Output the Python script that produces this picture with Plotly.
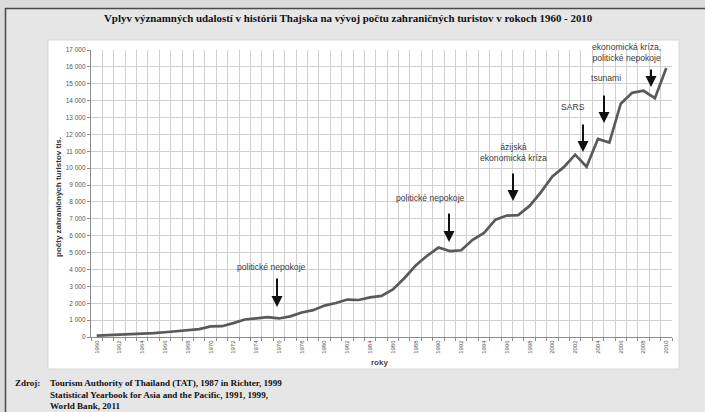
import plotly.graph_objects as go

# ---- data (thousands of foreign tourists) ----
years = list(range(1960, 2011))
tourists = [81, 107, 130, 195, 212, 225, 280, 336, 377, 469,
            629, 639, 821, 1037, 1107, 1180, 1098, 1221, 1454, 1591,
            1859, 2015, 2218, 2191, 2347, 2438, 2818, 3483, 4231, 4810,
            5299, 5087, 5136, 5761, 6166, 6952, 7192, 7221, 7765, 8580,
            9509, 10061, 10799, 10082, 11737, 11517, 13822, 14464, 14584, 14150,
            15936]

y_tickvals = list(range(0, 17001, 1000))
y_ticktext = [f"{v:,}".replace(",", " ") for v in y_tickvals]
x_tickvals = list(range(1960, 2011, 2))

event_labels = ["politické nepokoje", "politické nepokoje", "ázijská<br>ekonomická kríza",
                "SARS", "tsunami", "ekonomická kríza,<br>politické nepokoje"]

title_text = "Vplyv významných udalostí v histórii Thajska na vývoj počtu zahraničných turistov v rokoch 1960 - 2010"
source_lines = ["Tourism Authority of Thailand (TAT), 1987 in Richter, 1999",
                "Statistical Yearbook for Asia and the Pacific, 1991, 1999,",
                "World Bank, 2011"]

# ---- layout geometry (pixels) ----
W, H = 705, 412
L, R, T, B = 91, 672, 50, 337

def px(x):
    return (x - L) / (R - L)

def py(y):
    return (B - y) / (B - T)

fig = go.Figure()
fig.add_trace(go.Scatter(x=years, y=tourists, mode="lines",
                         line=dict(color="#5a5a5a", width=2.7),
                         hoverinfo="skip", showlegend=False))

shapes = [
    dict(type="rect", xref="paper", yref="paper", x0=px(5), x1=px(720), y0=py(430), y1=py(8),
         fillcolor="#e6e6e6", line=dict(width=0), layer="below"),
    dict(type="line", xref="paper", yref="paper", x0=px(5), x1=px(720), y0=py(8.5), y1=py(8.5),
         line=dict(color="#4a4a4a", width=1.5), layer="below"),
    dict(type="line", xref="paper", yref="paper", x0=px(5.5), x1=px(5.5), y0=py(430), y1=py(8),
         line=dict(color="#4a4a4a", width=1.5), layer="below"),
    dict(type="rect", xref="paper", yref="paper", x0=px(48), x1=px(679), y0=py(369), y1=py(40),
         fillcolor="white", line=dict(color="#d8d8d8", width=1), layer="below"),
]

annotations = []
label_pos = [(271, 267), (430, 198), (513, 152.5), (573, 107), (606, 78), (626, 52.5)]
for txt, (lx, ly) in zip(event_labels, label_pos):
    annotations.append(dict(text=txt, xref="paper", yref="paper", x=px(lx), y=py(ly),
                            showarrow=False, xanchor="center", yanchor="middle",
                            font=dict(family="Liberation Sans, Arial", size=8.6, color="#3a3a3a"),
                            align="center"))
arrow_pos = [(277, 277, 307), (449, 212, 242), (513, 172, 201),
             (583, 123, 152), (604, 94, 123), (651, 68, 87)]
for ax_, y0, y1 in arrow_pos:
    annotations.append(dict(text="", xref="paper", yref="paper", x=px(ax_), y=py(y1),
                            ax=0, ay=-(y1 - y0), showarrow=True, arrowhead=2,
                            arrowsize=1.1, arrowwidth=2, arrowcolor="#111111"))

annotations.append(dict(text="<b>" + title_text + "</b>", xref="paper", yref="paper",
                        x=px(348), y=py(18), showarrow=False, xanchor="center", yanchor="middle",
                        font=dict(family="Liberation Serif, Times New Roman", size=10.9, color="#111111")))
annotations.append(dict(text="<b>počty zahraničných turistov tis.</b>", xref="paper", yref="paper",
                        x=px(58), y=py(197), showarrow=False, textangle=-90,
                        xanchor="center", yanchor="middle",
                        font=dict(family="Liberation Sans Narrow, Liberation Sans, Arial", size=8, color="#333333")))
annotations.append(dict(text="<b>roky</b>", xref="paper", yref="paper",
                        x=px(379), y=py(362), showarrow=False, xanchor="center", yanchor="middle",
                        font=dict(family="Liberation Sans, Arial", size=8, color="#444444")))
annotations.append(dict(text="<b>Zdroj:</b>", xref="paper", yref="paper", x=px(13), y=py(383),
                        showarrow=False, xanchor="left", yanchor="middle",
                        font=dict(family="Liberation Serif, Times New Roman", size=9, color="#111111")))
for line, ly in zip(source_lines, [383, 394.5, 405.5]):
    annotations.append(dict(text="<b>" + line + "</b>", xref="paper", yref="paper", x=px(48), y=py(ly),
                            showarrow=False, xanchor="left", yanchor="middle",
                            font=dict(family="Liberation Serif, Times New Roman", size=9.1, color="#111111")))

fig.update_layout(
    width=W, height=H,
    margin=dict(l=L, r=W - R, t=T, b=H - B, pad=0),
    paper_bgcolor="#dcdcdc",
    plot_bgcolor="rgba(0,0,0,0)",
    shapes=shapes,
    annotations=annotations,
    showlegend=False,
    xaxis=dict(range=[1959.5, 2010.5], tickvals=x_tickvals, ticktext=[str(v) for v in x_tickvals],
               tickangle=-90, ticks="", showgrid=False, zeroline=False,
               tickfont=dict(family="Liberation Sans, Arial", size=6, color="#555555"),
               showline=True, linecolor="#8c8c8c", linewidth=1.2,
               minor=dict(tick0=1959.5, dtick=1, showgrid=True, gridcolor="#d0d0d0", gridwidth=1,
                          ticks="outside", ticklen=3, tickcolor="#8c8c8c"),
               fixedrange=True),
    yaxis=dict(range=[0, 17000], tickvals=y_tickvals, ticktext=y_ticktext,
               showgrid=True, gridcolor="#d0d0d0", gridwidth=1, zeroline=False,
               ticks="outside", ticklen=3, tickcolor="#8c8c8c",
               tickfont=dict(family="Liberation Sans, Arial", size=6.5, color="#555555"),
               showline=True, linecolor="#8c8c8c", linewidth=1.2, mirror=False,
               fixedrange=True),
)

fig.write_html("out.html", config={"displayModeBar": False},
               post_script="document.body.style.margin='0';document.body.style.overflow='hidden';")
